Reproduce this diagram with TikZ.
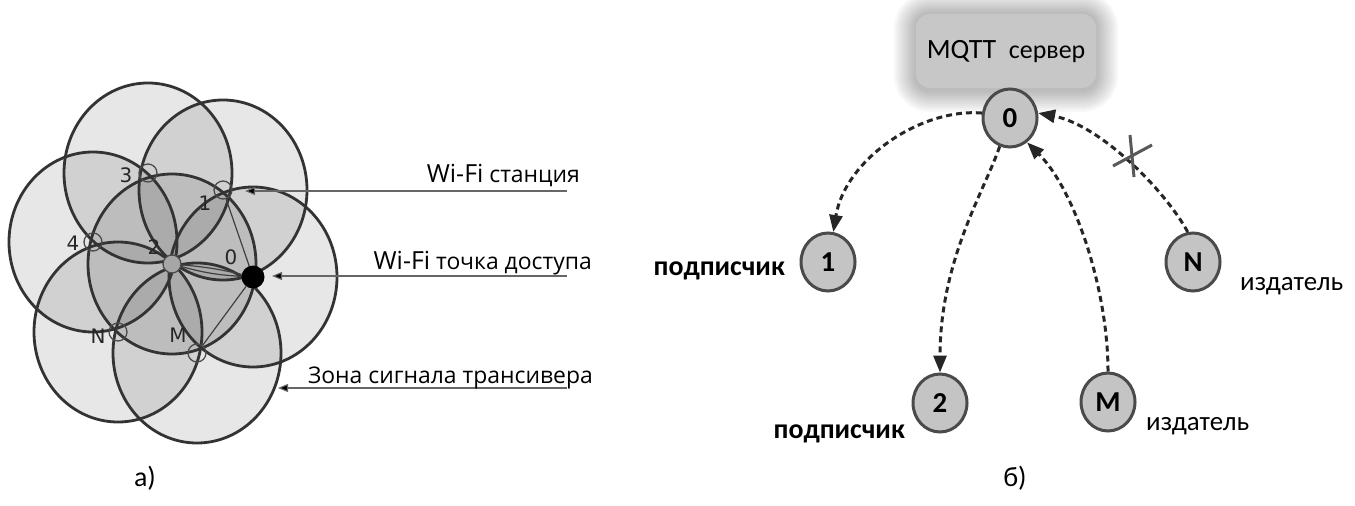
\documentclass[tikz,border=0pt]{standalone}
\usepackage{fontspec}
\setmainfont{Open Sans}
\newfontfamily\calfont{Carlito}
\newfontfamily\djvfont{DejaVu Sans}
\usetikzlibrary{arrows.meta,shapes.geometric}
\definecolor{ringc}{HTML}{333333}
\definecolor{nodefill}{HTML}{C4C4C4}
\definecolor{nodeline}{HTML}{4A4A4A}
\begin{document}
\begin{tikzpicture}[x=1bp,y=-1bp,
  zonefill/.style={fill=black,fill opacity=0.095},
  zoneline/.style={draw=ringc,line width=2.8bp},
  station/.style={circle,draw=nodeline,line width=1.3bp,minimum size=18bp,inner sep=0pt},
  numlab/.style={font=\djvfont\fontsize{20}{20}\selectfont,text=black!85,inner sep=0pt},
  annot/.style={draw=black!60,line width=1.1bp,-{Triangle[length=10bp,width=8bp,fill=black]}},
  annlab/.style={font=\fontsize{23}{26}\selectfont,anchor=base east,inner sep=0pt},
  link/.style={draw=black!75,line width=1.2bp},
  mnode/.style={ellipse,draw=nodeline,fill=nodefill,line width=3bp,minimum width=54bp,minimum height=58bp,inner sep=0pt,font=\calfont\bfseries\fontsize{29}{29}\selectfont},
  mlab/.style={font=\calfont\fontsize{27}{30}\selectfont,inner sep=0pt},
  blab/.style={font=\calfont\bfseries\fontsize{28}{30}\selectfont,inner sep=0pt},
  msg/.style={draw=black!85,line width=3bp,dash pattern=on 6bp off 4bp,-{Triangle[length=17bp,width=13bp,fill=black!85]}},
  caplab/.style={font=\calfont\fontsize{28}{30}\selectfont,inner sep=0pt}
]
\useasboundingbox (0,0) rectangle (1355,506);

% ---------- left: zones ----------
\foreach \cx/\cy in {148/173,223/190,93/242,172/264,118/332,197/353,253/277}{
  \fill[zonefill] (\cx,\cy) ellipse [x radius=84,y radius=90];
}
\foreach \cx/\cy in {148/173,223/190,93/242,172/264,118/332,197/353,253/277}{
  \draw[zoneline] (\cx,\cy) ellipse [x radius=84,y radius=90];
}

% stations
\node[station] (s3) at (148,173) {};
\node[station] (s1) at (223,190) {};
\node[station] (s4) at (93,242) {};
\node[station,fill=black!35] (s2) at (172,264) {};
\node[station] (sN) at (118,332) {};
\node[station] (sM) at (197,353) {};
\node[circle,fill=black,minimum size=23bp,inner sep=0pt] (s0) at (253,277) {};

% links to the access point
\draw[link] (s0) -- (s1);
\draw[link] (s0) to[bend left=6] (s2);
\draw[link] (s0) to[bend right=4] (s2);
\draw[link] (s0) -- (sM);

% station labels
\node[numlab] (l3) at (126,175) {3};
\node[numlab] (l1) at (205,203) {1};
\node[numlab] (l4) at (73,243) {4};
\node[numlab] (l2) at (154,247) {2};
\node[numlab] (l0) at (231,257) {0};
\node[numlab] (lN) at (98,336) {N};
\node[numlab] (lM) at (178,335) {M};

% annotations
\coordinate (a1) at (567,191);
\coordinate (a2) at (567,276);
\coordinate (a3) at (567,388);
\coordinate (t1) at (245,191);
\coordinate (t2) at (272,276);
\coordinate (t3) at (278,388);
\draw[annot] (a1) -- (t1);
\draw[annot] (a2) -- (t2);
\draw[annot] (a3) -- (t3);
\node[annlab] (w1) at (580,183) {{\fontsize{25}{26}\selectfont Wi-Fi} станция};
\node[annlab] (w2) at (592,270) {{\fontsize{25}{26}\selectfont Wi-Fi} точка доступа};
\node[annlab] (w3) at (593,383) {Зона сигнала трансивера};

\node[caplab] (ca) at (145,478) {а)};

% ---------- right: MQTT ----------
\foreach \g in {22,20,...,2}{
  \fill[black,opacity=0.028,rounded corners=14bp+\g bp] (916-\g,14-\g) rectangle (1096+\g,90+\g);
}
\fill[black!22,rounded corners=14bp] (916,14) rectangle (1096,88);
\node[mlab] (srv) at (1006,52) {\fontsize{28}{30}\selectfont MQTT\ \ {\fontsize{26}{28}\selectfont сервер}};

\node[mnode] (n0) at (1010,118) {0};
\node[mnode] (n1) at (828,262) {1};
\node[mnode] (nN) at (1193,262) {N};
\node[mnode] (n2) at (940,403) {2};
\node[mnode] (nM) at (1108,402) {M};

\draw[msg] (n0.170) .. controls (920,108) and (845,160) .. (n1.80);
\draw[msg] (n0.250) .. controls (985,190) and (940,260) .. (n2.north);
\draw[msg] (nM.north) .. controls (1108,290) and (1075,190) .. (n0.305);
\draw[msg] (nN.100) .. controls (1165,190) and (1100,125) .. (n0.10);

% blocked mark
\coordinate (x1a) at (1113,166);
\coordinate (x1b) at (1152,145);
\coordinate (x2a) at (1130,135);
\coordinate (x2b) at (1134,177);
\draw[draw=black!65,line width=3bp] (x1a) -- (x1b);
\draw[draw=black!65,line width=3bp] (x2a) -- (x2b);

\node[blab,anchor=base east] (p1) at (785,275) {подписчик};
\node[mlab,anchor=base west] (pN) at (1240,290) {издатель};
\node[blab,anchor=base east] (p2) at (905,438) {подписчик};
\node[mlab,anchor=base west] (pM) at (1146,430) {издатель};

\node[caplab] (cb) at (1015,478) {б)};
\end{tikzpicture}
\end{document}
